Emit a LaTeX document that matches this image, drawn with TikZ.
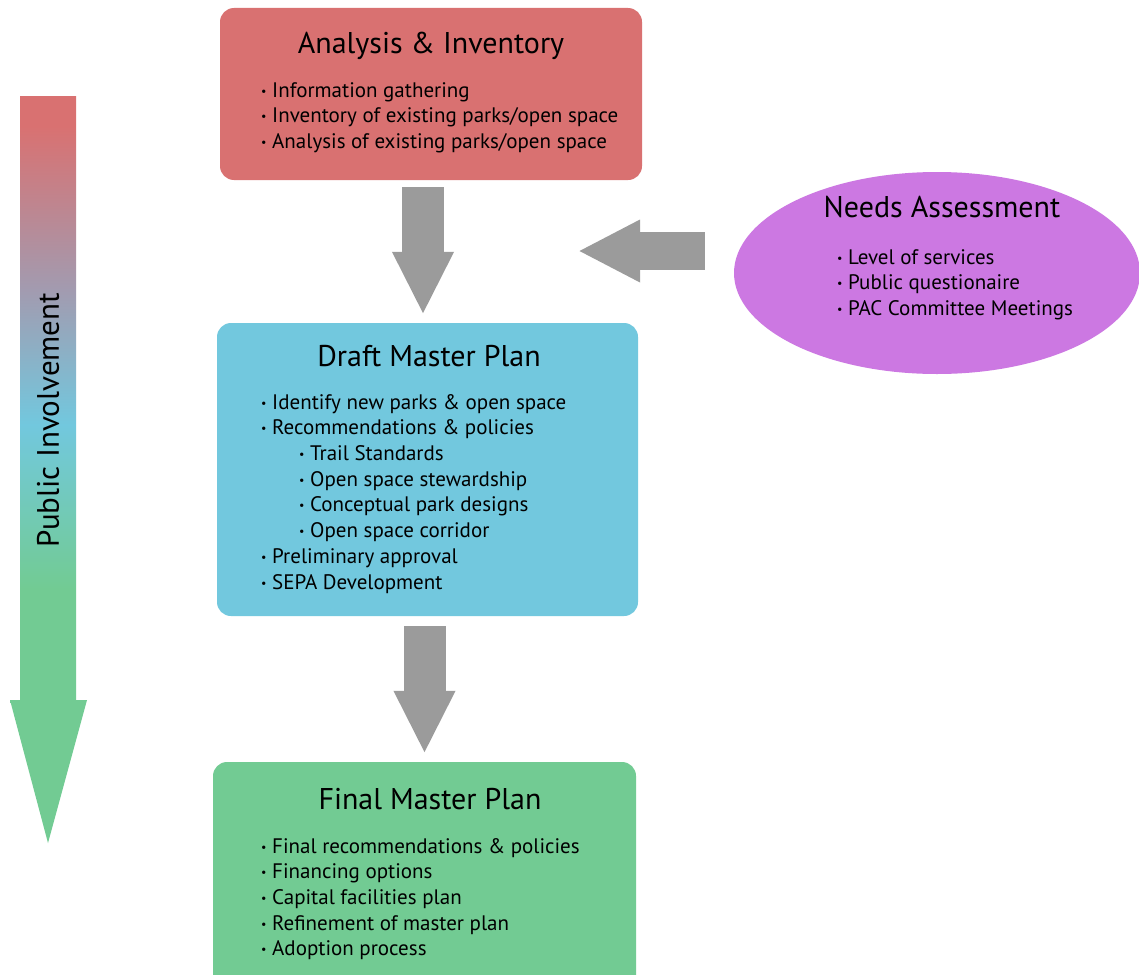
\documentclass[tikz,border=0pt]{standalone}
\usepackage{fontspec}
\setmainfont{PT Sans}
\usetikzlibrary{shapes.geometric,arrows.meta}

\definecolor{anared}{RGB}{217,113,113}
\definecolor{draftblue}{RGB}{114,200,222}
\definecolor{finalgreen}{RGB}{114,203,147}
\definecolor{needspurple}{RGB}{204,120,226}
\definecolor{arrowgray}{RGB}{155,155,155}
\definecolor{involvegray}{RGB}{162,155,176}

\pgfdeclareverticalshading{involve}{100bp}{color(0bp)=(finalgreen); color(42bp)=(finalgreen);
  color(53bp)=(draftblue); color(62bp)=(involvegray); color(73bp)=(anared); color(100bp)=(anared)}

\newcommand{\bul}{\makebox[11pt][l]{\raisebox{2pt}{\fontsize{12}{12}\selectfont\textbullet}}}
\newcommand{\subbul}{\hspace*{38pt}\bul}

\tikzset{
  box/.style={rounded corners=14pt, inner sep=0pt},
  title/.style={inner sep=0pt, font=\fontsize{30}{34}\selectfont},
  items/.style={anchor=north west, align=left, inner sep=0pt, font=\fontsize{21}{25.7}\selectfont},
  blockarrow/.style={draw=arrowgray, fill=arrowgray, line width=42pt,
    -{Triangle[width=57pt,length=63pt]}}
}

\begin{document}
\begin{tikzpicture}[x=1pt,y=-1pt]
\path[fill=white] (0,0) rectangle (1139,974);
\useasboundingbox (0,0) rectangle (1139,974);

% the three stages and the needs assessment
\node[box, fill=anared, minimum width=422pt, minimum height=172pt] (ana) at (431,94) {};
\node[box, fill=draftblue, minimum width=421pt, minimum height=293pt] (draft) at (427.5,469.5) {};
\node[box, fill=finalgreen, minimum width=423pt, minimum height=228pt] (final) at (424.5,876) {};
\node[ellipse, fill=needspurple, inner sep=0pt, minimum width=406pt, minimum height=202pt] (needs) at (937,273) {};

\node[title] (anatitle) at (431,46) {Analysis \& Inventory};
\node[items] (analist) at (261,82) {\bul Information gathering\\
  \bul Inventory of existing parks/open space\\
  \bul Analysis of existing parks/open space};

\node[title] (drafttitle) at (429,356) {Draft Master Plan};
\node[items] (draftlist) at (261,394) {\bul Identify new parks \& open space\\
  \bul Recommendations \& policies\\
  \subbul Trail Standards\\
  \subbul Open space stewardship\\
  \subbul Conceptual park designs\\
  \subbul Open space corridor\\
  \bul Preliminary approval\\
  \bul SEPA Development};

\node[title] (finaltitle) at (430,799) {Final Master Plan};
\node[items] (finallist) at (261,838) {\bul Final recommendations \& policies\\
  \bul Financing options\\
  \bul Capital facilities plan\\
  \bul Refinement of master plan\\
  \bul Adoption process};

\node[title] (needstitle) at (942,207) {Needs Assessment};
\node[items] (needslist) at (837,249) {\bul Level of services\\
  \bul Public questionaire\\
  \bul PAC Committee Meetings};

% flow arrows
\coordinate (needsin) at (578,251);
\draw[blockarrow, shorten <=7pt, shorten >=8pt] ([xshift=-8pt]ana.south) -- ([xshift=-8pt]ana.south |- draft.north);
\draw[blockarrow, shorten <=10pt, shorten >=8pt] ([xshift=-3pt]draft.south) -- ([xshift=-3pt]draft.south |- final.north);
\draw[blockarrow, line width=38pt, -{Triangle[width=58pt,length=62pt]}, shorten <=29pt] (needs.west |- needsin) -- (needsin);

% public involvement runs along the whole process
\path[shading=involve] (20,96) -- (76,96) -- (76,700) -- (87,700) -- (48,843) -- (10,700) -- (20,700) -- cycle;
\node[rotate=90, inner sep=0pt, font=\fontsize{31}{34}\selectfont] (public) at (48,420) {Public Involvement};
\end{tikzpicture}
\end{document}
